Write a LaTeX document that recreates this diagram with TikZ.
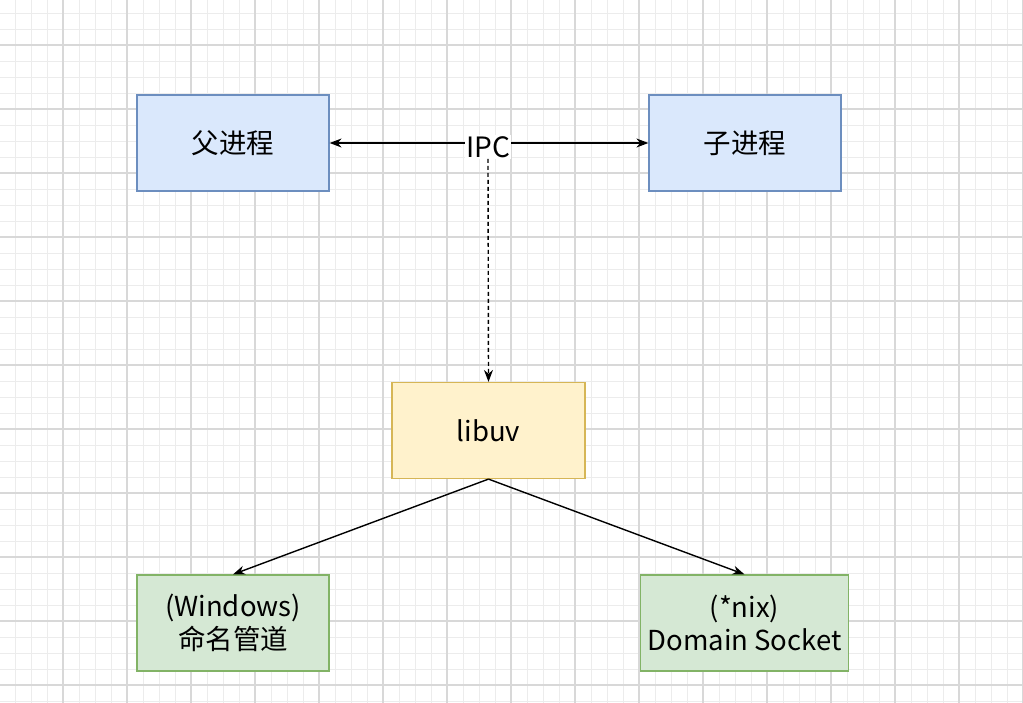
\documentclass[tikz,border=0pt]{standalone}
\usepackage{fontspec}
\setmainfont{Noto Sans CJK SC}
\usetikzlibrary{arrows.meta}
\definecolor{blueF}{HTML}{DAE8FC}
\definecolor{blueS}{HTML}{6C8EBF}
\definecolor{yelF}{HTML}{FFF2CC}
\definecolor{yelS}{HTML}{D6B656}
\definecolor{grnF}{HTML}{D5E8D4}
\definecolor{grnS}{HTML}{82B366}
\definecolor{gridMinor}{HTML}{ECECEC}
\definecolor{gridMajor}{HTML}{D8D8D8}
\tikzset{
  box/.style={draw, line width=1.2pt, minimum width=192pt, minimum height=96pt, inner sep=0pt, align=center, font=\fontsize{27.5}{33}\selectfont},
  conn/.style={line width=1.4pt, -{Stealth[length=12pt,width=9pt]}},
}
\begin{document}
\begin{tikzpicture}[x=1pt,y=-1pt]
\useasboundingbox (0,0) rectangle (1023,703);
\fill[white] (0,0) rectangle (1023,703);
% grid
\foreach \i in {0,...,63} {\draw[gridMinor, line width=0.9pt] (15+16*\i,0) -- (15+16*\i,703);}
\foreach \i in {0,...,43} {\draw[gridMinor, line width=0.9pt] (0,13+16*\i) -- (1023,13+16*\i);}
\foreach \i in {-1,...,15} {\draw[gridMajor, line width=1.1pt] (63+64*\i,0) -- (63+64*\i,703);}
\foreach \i in {-1,...,10} {\draw[gridMajor, line width=1.1pt] (0,45+64*\i) -- (1023,45+64*\i);}
% nodes
\node[box, fill=blueF, draw=blueS] (parent) at (233,143) {父进程};
\node[box, fill=blueF, draw=blueS] (child) at (745,143) {子进程};
\node[box, fill=yelF, draw=yelS, minimum width=193pt] (libuv) at (488.5,430.5) {libuv};
\node[box, fill=grnF, draw=grnS] (win) at (233,623) {(Windows)\\命名管道};
\node[box, fill=grnF, draw=grnS, minimum width=208pt] (nix) at (744.5,623) {(*nix)\\Domain Socket};
\node[fill=white, inner sep=1pt, font=\fontsize{28}{32}\selectfont] (ipc) at (488,147) {IPC};
% connectors
\draw[conn] ([yshift=4pt]ipc.west) -- ([yshift=4pt]ipc.west -| parent.east);
\draw[conn] ([yshift=4pt]ipc.east) -- ([yshift=4pt]ipc.east -| child.west);
\draw[conn, dashed, dash pattern=on 4pt off 3pt] (ipc.south) -- (libuv.north);
\draw[conn] (libuv.south) -- (win.north);
\draw[conn] (libuv.south) -- (nix.north);
\end{tikzpicture}
\end{document}
